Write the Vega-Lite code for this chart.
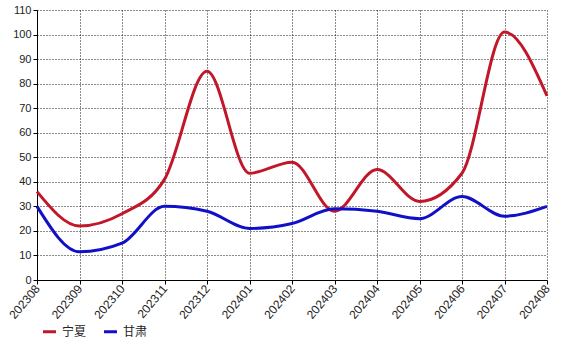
{
  "$schema": "https://vega.github.io/schema/vega-lite/v6.json",
  "width": 510,
  "height": 270,
  "autosize": {"type": "none"},
  "padding": {"left": 37, "top": 10, "right": 24, "bottom": 64},
  "background": "white",
  "config": {
    "font": "Liberation Sans, Noto Sans CJK SC",
    "view": {"stroke": null}
  },
  "data": {
    "values": [
      {"m": "202308", "s": "宁夏", "v": 36},
      {"m": "202309", "s": "宁夏", "v": 22},
      {"m": "202310", "s": "宁夏", "v": 27},
      {"m": "202311", "s": "宁夏", "v": 41},
      {"m": "202312", "s": "宁夏", "v": 85},
      {"m": "202401", "s": "宁夏", "v": 43.5},
      {"m": "202402", "s": "宁夏", "v": 48},
      {"m": "202403", "s": "宁夏", "v": 28},
      {"m": "202404", "s": "宁夏", "v": 45},
      {"m": "202405", "s": "宁夏", "v": 32},
      {"m": "202406", "s": "宁夏", "v": 43.5},
      {"m": "202407", "s": "宁夏", "v": 101},
      {"m": "202408", "s": "宁夏", "v": 75},
      {"m": "202308", "s": "甘肃", "v": 30},
      {"m": "202309", "s": "甘肃", "v": 11.5},
      {"m": "202310", "s": "甘肃", "v": 15},
      {"m": "202311", "s": "甘肃", "v": 30},
      {"m": "202312", "s": "甘肃", "v": 28},
      {"m": "202401", "s": "甘肃", "v": 21},
      {"m": "202402", "s": "甘肃", "v": 23},
      {"m": "202403", "s": "甘肃", "v": 29},
      {"m": "202404", "s": "甘肃", "v": 28},
      {"m": "202405", "s": "甘肃", "v": 25},
      {"m": "202406", "s": "甘肃", "v": 34},
      {"m": "202407", "s": "甘肃", "v": 26},
      {"m": "202408", "s": "甘肃", "v": 30}
    ]
  },
  "mark": {"type": "line", "interpolate": "monotone", "strokeWidth": 3},
  "encoding": {
    "x": {
      "field": "m", "type": "ordinal",
      "scale": {"type": "point", "padding": 0},
      "axis": {
        "title": null, "labelAngle": -50, "labelAlign": "right", "labelBaseline": "middle",
        "labelFontSize": 12, "labelColor": "#222", "domainColor": "black", "tickColor": "black",
        "tickSize": 4, "labelPadding": 2,
        "grid": true, "gridColor": "black", "gridDash": [1, 2], "gridOpacity": 0.9
      }
    },
    "y": {
      "field": "v", "type": "quantitative",
      "scale": {"domain": [0, 110], "nice": false},
      "axis": {
        "title": null, "values": [0,10,20,30,40,50,60,70,80,90,100,110],
        "labelFontSize": 11, "labelColor": "#222", "domainColor": "black", "tickColor": "black",
        "tickSize": 4, "labelPadding": 2,
        "grid": true, "gridColor": "black", "gridDash": [1, 2], "gridOpacity": 0.9
      }
    },
    "color": {
      "field": "s", "type": "nominal",
      "scale": {"domain": ["宁夏", "甘肃"], "range": ["#c0182a", "#1010c8"]},
      "legend": {
        "title": null, "orient": "none", "legendX": 4, "legendY": 313,
        "direction": "horizontal", "symbolType": "stroke", "symbolSize": 170,
        "symbolStrokeWidth": 3, "labelFontSize": 12, "columnPadding": 10, "labelColor": "#222"
      }
    }
  }
}
